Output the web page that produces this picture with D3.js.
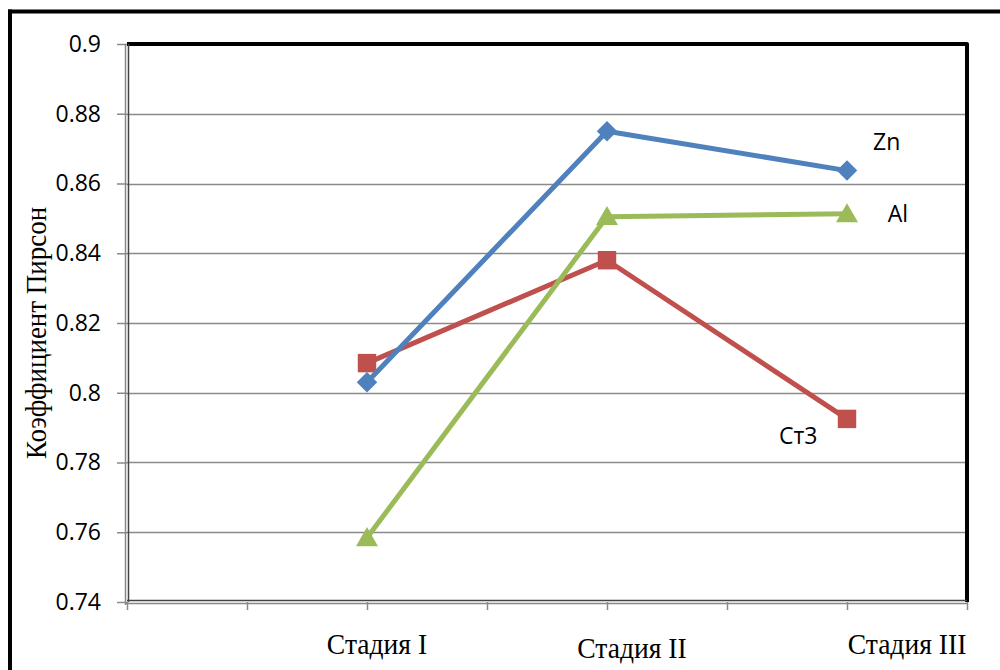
<!DOCTYPE html>
<html><head><meta charset="utf-8">
<script src="https://cdn.jsdelivr.net/npm/d3@7/dist/d3.min.js"></script>
<style>html,body{margin:0;padding:0;background:#fff;}svg{display:block;}</style>
</head><body>
<svg id="c" width="1000" height="670"></svg>
<script>
const stages = ["Стадия I", "Стадия II", "Стадия III"];
const stagePos = [2, 4, 6];
const znValues = [0.803, 0.875, 0.8637];
const st3Values = [0.8085, 0.838, 0.7925];
const alValues = [0.7584, 0.8505, 0.8513];
const yTicks = [0.74, 0.76, 0.78, 0.8, 0.82, 0.84, 0.86, 0.88, 0.9];
const yTickLabels = ["0.74", "0.76", "0.78", "0.8", "0.82", "0.84", "0.86", "0.88", "0.9"];
const xTicks = [0, 1, 2, 3, 4, 5, 6, 7];
const seriesNames = ["Zn", "Ст3", "Al"];
const yTitle = "Коэффициент Пирсон";

const svg = d3.select("#c");
const L = 127, R = 967, T = 44, B = 602;
const x = d3.scaleLinear().domain([0, 7]).range([L, R]);
const y = d3.scaleLinear().domain([0.74, 0.9]).range([B, T]);

// outer frame
svg.append("line").attr("x1", 8).attr("x2", 1000).attr("y1", 11.5).attr("y2", 11.5).attr("stroke", "#000").attr("stroke-width", 4);
svg.append("line").attr("x1", 10).attr("x2", 10).attr("y1", 9.5).attr("y2", 670).attr("stroke", "#000").attr("stroke-width", 4);

// gridlines
svg.append("g").selectAll("line").data(yTicks.slice(1, -1)).join("line")
  .attr("x1", L).attr("x2", R).attr("y1", d => Math.round(y(d)) + 0.5).attr("y2", d => Math.round(y(d)) + 0.5)
  .attr("stroke", "#8a8a8a").attr("stroke-width", 1.5);

// y axis
const yAxis = d3.axisLeft(y).tickValues(yTicks).tickFormat((d, i) => yTickLabels[i]).tickSize(10).tickPadding(16);
const gy = svg.append("g").attr("transform", `translate(${L},0)`).call(yAxis);
gy.select(".domain").remove();
gy.selectAll(".tick line").attr("stroke", "#8a8a8a").attr("stroke-width", 1.5);
gy.selectAll(".tick text").attr("font-family", "'Open Sans', sans-serif").attr("font-size", 23).attr("fill", "#000");

// x axis
const xAxis = d3.axisBottom(x).tickValues(xTicks).tickFormat("").tickSize(8);
const gx = svg.append("g").attr("transform", `translate(0,${B})`).call(xAxis);
gx.select(".domain").remove();
gx.selectAll(".tick line").attr("stroke", "#8a8a8a").attr("stroke-width", 1.5);

// plot border
svg.append("path").attr("d", `M${L},${T}H${R}V${B}`).attr("fill", "none").attr("stroke", "#000").attr("stroke-width", 4).attr("stroke-linejoin", "round");
svg.append("line").attr("x1", L - 1.5).attr("x2", L - 1.5).attr("y1", T).attr("y2", B + 3).attr("stroke", "#888").attr("stroke-width", 1.5);
svg.append("line").attr("x1", L + 1.5).attr("x2", L + 1.5).attr("y1", T).attr("y2", B).attr("stroke", "#444").attr("stroke-width", 1.5);
svg.append("line").attr("x1", L - 1.5).attr("x2", R + 1).attr("y1", B + 1.5).attr("y2", B + 1.5).attr("stroke", "#888").attr("stroke-width", 1.5);
svg.append("line").attr("x1", L).attr("x2", R).attr("y1", B - 1.5).attr("y2", B - 1.5).attr("stroke", "#444").attr("stroke-width", 1.5);

// series
const diamond = {draw(ctx, size) { const r = Math.sqrt(size / 2); ctx.moveTo(0, -r); ctx.lineTo(r, 0); ctx.lineTo(0, r); ctx.lineTo(-r, 0); ctx.closePath(); }};
const line = d3.line().x((d, i) => x(stagePos[i])).y(d => y(d));
const series = [
  {name: seriesNames[1], values: st3Values, color: "#C0504D", marker: d3.symbolSquare, size: 340, dy: 0},
  {name: seriesNames[2], values: alValues, color: "#9BBB59", marker: d3.symbolTriangle, size: 210, dy: 2},
  {name: seriesNames[0], values: znValues, color: "#4F81BD", marker: diamond, size: 210, dy: 0}
];
series.forEach(s => {
  svg.append("path").datum(s.values).attr("d", line).attr("fill", "none")
    .attr("stroke", s.color).attr("stroke-width", 5).attr("stroke-linejoin", "round");
  svg.append("g").selectAll("path").data(s.values).join("path")
    .attr("d", d3.symbol().type(s.marker).size(s.size))
    .attr("transform", (d, i) => `translate(${x(stagePos[i])},${y(d) + s.dy})`)
    .attr("fill", s.color);
});

// series labels
const lab = svg.append("g").attr("font-family", "'Open Sans', sans-serif").attr("font-size", 23).attr("fill", "#000");
lab.append("text").attr("x", x(6.217)).attr("y", y(0.872)).attr("dy", "0.35em").text(seriesNames[0]);
lab.append("text").attr("x", x(6.34)).attr("y", y(0.8513)).attr("dy", "0.35em").text(seriesNames[2]);
lab.append("text").attr("x", x(5.433)).attr("y", y(0.7875)).attr("dy", "0.35em").text(seriesNames[1]);

// stage labels
const stageX = [2.083, 4.208, 6.5];
const stageY = [643, 647, 643];
svg.append("g").selectAll("text").data(stages).join("text")
  .attr("transform", (d, i) => `translate(${x(stageX[i])},${stageY[i]}) scale(0.92,1)`)
  .attr("dy", "0.35em")
  .attr("text-anchor", "middle").attr("font-family", "'Liberation Serif', serif").attr("font-size", 30)
  .attr("fill", "#000").text(d => d);

// y title
svg.append("text").attr("transform", `translate(35,333) rotate(-90) scale(0.9,1)`).attr("text-anchor", "middle")
  .attr("dy", "0.35em").attr("font-family", "'Liberation Serif', serif").attr("font-size", 30).attr("fill", "#000").text(yTitle);
</script>
</body></html>
